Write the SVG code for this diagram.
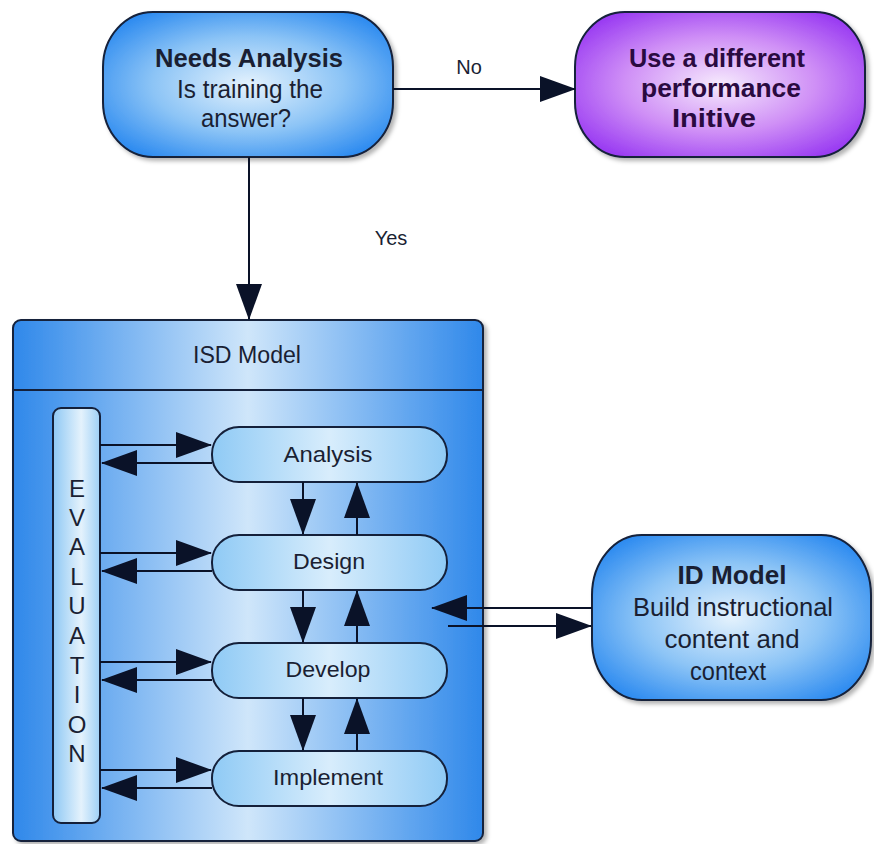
<svg xmlns="http://www.w3.org/2000/svg" width="874" height="844" viewBox="0 0 874 844">
<defs>
<radialGradient id="gBlue" cx="0.5" cy="0.5" r="0.6">
<stop offset="0" stop-color="#e4f2fd"/>
<stop offset="0.55" stop-color="#8cc4f6"/>
<stop offset="1" stop-color="#2f8cf0"/>
</radialGradient>
<radialGradient id="gPurple" cx="0.5" cy="0.5" r="0.6">
<stop offset="0" stop-color="#f6eafd"/>
<stop offset="0.55" stop-color="#cf8ff6"/>
<stop offset="1" stop-color="#9a3cf2"/>
</radialGradient>
<linearGradient id="gBox" x1="0" y1="0" x2="1" y2="0">
<stop offset="0" stop-color="#2f88ea"/>
<stop offset="0.5" stop-color="#cfe6fa"/>
<stop offset="1" stop-color="#2f88ea"/>
</linearGradient>
<linearGradient id="gPill" x1="0" y1="0" x2="1" y2="0">
<stop offset="0" stop-color="#8fcaf5"/>
<stop offset="0.5" stop-color="#d8edfc"/>
<stop offset="1" stop-color="#8fcaf5"/>
</linearGradient>
<linearGradient id="gEval" x1="0" y1="0" x2="1" y2="0">
<stop offset="0" stop-color="#8ec8f4"/>
<stop offset="0.6" stop-color="#e4f2fc"/>
<stop offset="1" stop-color="#9ed0f6"/>
</linearGradient>
<filter id="sh" x="-10%" y="-10%" width="125%" height="130%">
<feDropShadow dx="3" dy="3" stdDeviation="2" flood-color="#000" flood-opacity="0.3"/>
</filter>
<marker id="ah" markerUnits="userSpaceOnUse" markerWidth="36" markerHeight="26" refX="35" refY="13" orient="auto">
<path d="M0,0 L36,13 L0,26 Z" fill="#0a1228"/>
</marker>
</defs>
<style>
.node{stroke:#14203a;stroke-width:2}
.t{font-family:"Liberation Sans",Arial,sans-serif;fill:#1a1f33;text-anchor:middle}
.b{font-weight:bold}
.big{font-size:25px}
.sm{font-size:22px}
.p{fill:#2a0a40}
.c{stroke:#0a1228;stroke-width:2;fill:none}
</style>
<rect width="874" height="844" fill="#ffffff"/>

<g id="needs-analysis">
<rect class="node" x="103" y="12" width="290" height="145" rx="50" ry="55" fill="url(#gBlue)" filter="url(#sh)"/>
<text class="t b big" x="249" y="67" textLength="188" lengthAdjust="spacingAndGlyphs">Needs Analysis</text>
<text class="t big" x="250" y="98" textLength="146" lengthAdjust="spacingAndGlyphs">Is training the</text>
<text class="t big" x="246" y="127" textLength="90" lengthAdjust="spacingAndGlyphs">answer?</text>
</g>

<g id="different-initiative">
<rect class="node" x="575" y="12" width="290" height="145" rx="50" ry="55" fill="url(#gPurple)" filter="url(#sh)"/>
<text class="t b big p" x="717" y="67" textLength="176" lengthAdjust="spacingAndGlyphs">Use a different</text>
<text class="t b big p" x="721" y="97" textLength="160" lengthAdjust="spacingAndGlyphs">performance</text>
<text class="t b big p" x="714" y="127" textLength="84" lengthAdjust="spacingAndGlyphs">Initive</text>
</g>

<g id="isd-model">
<rect class="node" x="13" y="320" width="470" height="521" rx="8" fill="url(#gBox)" filter="url(#sh)"/>
<line x1="13" y1="390" x2="483" y2="390" stroke="#14203a" stroke-width="2"/>
<text class="t" style="font-size:23px" x="247" y="363" textLength="108" lengthAdjust="spacingAndGlyphs">ISD Model</text>
</g>

<g id="evaluation">
<rect class="node" x="53" y="408" width="47" height="415" rx="8" fill="url(#gEval)"/>
<g class="t" style="font-size:24px">
<text x="77" y="497">E</text>
<text x="77" y="526">V</text>
<text x="77" y="555">A</text>
<text x="77" y="585">L</text>
<text x="77" y="614">U</text>
<text x="77" y="644">A</text>
<text x="77" y="674">T</text>
<text x="77" y="703">I</text>
<text x="77" y="733">O</text>
<text x="77" y="762">N</text>
</g>
</g>

<g id="analysis">
<rect class="node" x="212" y="427" width="235" height="55" rx="27" fill="url(#gPill)"/>
<text class="t sm" x="328" y="462" textLength="89" lengthAdjust="spacingAndGlyphs">Analysis</text>
</g>
<g id="design">
<rect class="node" x="212" y="535" width="235" height="55" rx="27" fill="url(#gPill)"/>
<text class="t sm" x="329" y="569" textLength="72" lengthAdjust="spacingAndGlyphs">Design</text>
</g>
<g id="develop">
<rect class="node" x="212" y="643" width="235" height="55" rx="27" fill="url(#gPill)"/>
<text class="t sm" x="328" y="677" textLength="85" lengthAdjust="spacingAndGlyphs">Develop</text>
</g>
<g id="implement">
<rect class="node" x="212" y="751" width="235" height="55" rx="27" fill="url(#gPill)"/>
<text class="t sm" x="328" y="785" textLength="110" lengthAdjust="spacingAndGlyphs">Implement</text>
</g>

<g id="id-model">
<rect class="node" x="592" y="535" width="279" height="165" rx="50" ry="60" fill="url(#gBlue)" filter="url(#sh)"/>
<text class="t b big" x="732" y="584" textLength="109" lengthAdjust="spacingAndGlyphs">ID Model</text>
<text class="t big" x="733" y="616" textLength="200" lengthAdjust="spacingAndGlyphs">Build instructional</text>
<text class="t big" x="732" y="648" textLength="135" lengthAdjust="spacingAndGlyphs">content and</text>
<text class="t big" x="728" y="680" textLength="76" lengthAdjust="spacingAndGlyphs">context</text>
</g>

<g id="connectors">
<line class="c" x1="393" y1="89" x2="575" y2="89" marker-end="url(#ah)"/>
<text class="t" style="font-size:20px" x="469" y="74">No</text>
<line class="c" x1="249" y1="157" x2="249" y2="319" marker-end="url(#ah)"/>
<text class="t" style="font-size:20px" x="391" y="245">Yes</text>

<line class="c" x1="100" y1="445" x2="211" y2="445" marker-end="url(#ah)"/>
<line class="c" x1="212" y1="463" x2="102" y2="463" marker-end="url(#ah)"/>
<line class="c" x1="100" y1="553" x2="211" y2="553" marker-end="url(#ah)"/>
<line class="c" x1="212" y1="571" x2="102" y2="571" marker-end="url(#ah)"/>
<line class="c" x1="100" y1="662" x2="211" y2="662" marker-end="url(#ah)"/>
<line class="c" x1="212" y1="680" x2="102" y2="680" marker-end="url(#ah)"/>
<line class="c" x1="100" y1="770" x2="211" y2="770" marker-end="url(#ah)"/>
<line class="c" x1="212" y1="788" x2="102" y2="788" marker-end="url(#ah)"/>

<line class="c" x1="303" y1="482" x2="303" y2="534" marker-end="url(#ah)"/>
<line class="c" x1="357" y1="535" x2="357" y2="483" marker-end="url(#ah)"/>
<line class="c" x1="303" y1="590" x2="303" y2="642" marker-end="url(#ah)"/>
<line class="c" x1="357" y1="643" x2="357" y2="591" marker-end="url(#ah)"/>
<line class="c" x1="303" y1="698" x2="303" y2="750" marker-end="url(#ah)"/>
<line class="c" x1="357" y1="751" x2="357" y2="699" marker-end="url(#ah)"/>

<line class="c" x1="592" y1="608" x2="432" y2="608" marker-end="url(#ah)"/>
<line class="c" x1="448" y1="626" x2="591" y2="626" marker-end="url(#ah)"/>
</g>
</svg>
